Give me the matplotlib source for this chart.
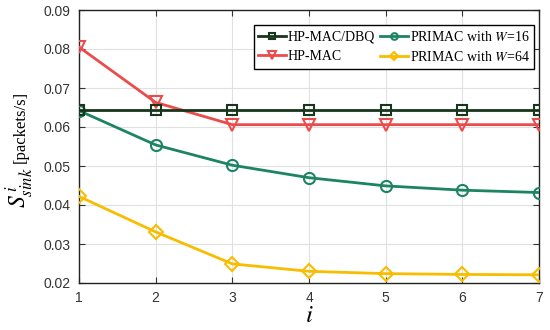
import matplotlib
matplotlib.use("Agg")
import matplotlib.pyplot as plt

x = [1, 2, 3, 4, 5, 6, 7]
hpmac_dbq = [0.0643, 0.0643, 0.0643, 0.0643, 0.0643, 0.0643, 0.0643]
hpmac = [0.0805, 0.0663, 0.0606, 0.0606, 0.0606, 0.0606, 0.0606]
primac16 = [0.0642, 0.0554, 0.0502, 0.0470, 0.0449, 0.0438, 0.0432]
primac64 = [0.0422, 0.0331, 0.0249, 0.0230, 0.0224, 0.0222, 0.0221]
labels = ["HP-MAC/DBQ", "HP-MAC", "PRIMAC with $W$=16", "PRIMAC with $W$=64"]

plt.rcParams['mathtext.fontset'] = 'stix'
fig = plt.figure(figsize=(5.5, 3.3), dpi=100)
ax = fig.add_axes([79/550, 1-283/330, 460/550, 273/330])

lw = 2
ax.plot(x, hpmac_dbq, color='#17361c', marker='s', ms=6.5, mfc='none', mew=1.5, lw=lw, label=labels[0], zorder=5)
ax.plot(x, hpmac, color='#ec4b4b', marker='v', ms=8.5, mfc='none', mew=1.5, lw=lw, label=labels[1], zorder=4)
ax.plot(x, primac16, color='#1d8463', marker='o', ms=8, mfc='none', mew=1.5, lw=lw, label=labels[2], zorder=4)
ax.plot(x, primac64, color='#f7bd00', marker='D', ms=7, mfc='none', mew=1.5, lw=lw, label=labels[3], zorder=4)

ax.set_xlim(1, 7)
ax.set_ylim(0.02, 0.09)
ax.set_xticks(x)
ax.set_yticks([0.02, 0.03, 0.04, 0.05, 0.06, 0.07, 0.08, 0.09])
ax.set_yticklabels(['0.02', '0.03', '0.04', '0.05', '0.06', '0.07', '0.08', '0.09'])
for lab in ax.get_xticklabels() + ax.get_yticklabels():
    lab.set_fontfamily('Liberation Sans')
    lab.set_fontsize(10)
    lab.set_color('#222222')
ax.tick_params(direction='in', length=4, width=0.8, top=True, right=True, pad=6, colors='#333333')
ax.grid(True, color='#e0e0e0', lw=0.8)
ax.set_axisbelow(True)
for s in ax.spines.values():
    s.set_color('#222222')
    s.set_linewidth(1.0)

ax.set_xlabel('$i$', fontsize=18, fontfamily='Liberation Serif', labelpad=0)
# y label: large math symbol plus smaller unit text
fig.text(20/550, 1-188/330, '$S_{sink}^{\\,i}$', rotation=90, fontsize=17,
         ha='center', va='center')
fig.text(21/550, 1-127/330, '[packets/s]', rotation=90, fontsize=12,
         fontfamily='Liberation Serif', ha='center', va='center')

leg = ax.legend(ncol=2, loc='upper right', bbox_to_anchor=(0.99, 0.945),
                prop={'family': 'Liberation Serif', 'size': 10},
                frameon=True, fancybox=False, edgecolor='black', framealpha=1,
                handlelength=2.0, handletextpad=0.1, columnspacing=0.4,
                borderpad=0.35, labelspacing=0.42, borderaxespad=0, markerscale=0.6)
leg.get_frame().set_linewidth(1.0)

fig.savefig('out.png', dpi=100)
